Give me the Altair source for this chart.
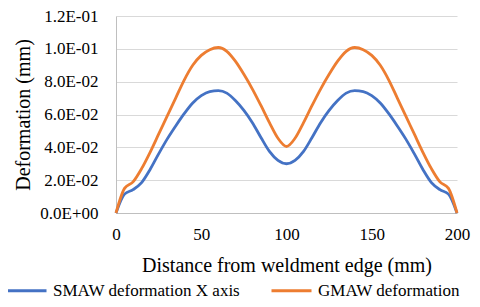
import altair as alt
import pandas as pd

x_vals = [0, 5, 10, 15, 20, 25, 30, 35, 40, 45, 50, 55, 60, 65, 70, 75, 80, 85, 90, 95, 100,
          105, 110, 115, 120, 125, 130, 135, 140, 145, 150, 155, 160, 165, 170, 175, 180, 185, 190, 195, 200]

smaw = [0.0, 0.0115, 0.0142, 0.0185, 0.0265, 0.0360, 0.0450, 0.0530, 0.0605, 0.0670, 0.0715,
        0.0740, 0.0745, 0.0730, 0.0685, 0.0625, 0.0550, 0.0460, 0.0375, 0.0320, 0.0300,
        0.0320, 0.0375, 0.0460, 0.0550, 0.0625, 0.0685, 0.0730, 0.0745, 0.0740, 0.0715,
        0.0670, 0.0605, 0.0530, 0.0450, 0.0360, 0.0265, 0.0185, 0.0142, 0.0115, 0.0]

gmaw = [0.0, 0.0150, 0.0190, 0.0270, 0.0370, 0.0480, 0.0590, 0.0700, 0.0810, 0.0900, 0.0960,
        0.0995, 0.1008, 0.0985, 0.0925, 0.0845, 0.0755, 0.0655, 0.0550, 0.0455, 0.0405,
        0.0455, 0.0550, 0.0655, 0.0755, 0.0845, 0.0925, 0.0985, 0.1008, 0.0995, 0.0960,
        0.0900, 0.0810, 0.0700, 0.0590, 0.0480, 0.0370, 0.0270, 0.0190, 0.0150, 0.0]

series_names = ["SMAW deformation X axis", "GMAW deformation"]
series_colors = ["#4472C4", "#ED7D31"]

x_ticks = [0, 50, 100, 150, 200]
y_ticks = [0, 0.02, 0.04, 0.06, 0.08, 0.10, 0.12]
y_labels = ["0.0E+00", "2.0E-02", "4.0E-02", "6.0E-02", "8.0E-02", "1.0E-01", "1.2E-01"]

rows = []
for name, ys in zip(series_names, [smaw, gmaw]):
    for i, (x, y) in enumerate(zip(x_vals, ys)):
        rows.append({"x": x, "y": y, "series": name, "order": i})
df = pd.DataFrame(rows)

label_expr = ""
for v, lab in zip(y_ticks, y_labels):
    label_expr += f"round(datum.value*1000)=={round(v*1000)} ? '{lab}' : "
label_expr += "''"

FONT = "Liberation Serif"

chart = alt.Chart(df).mark_line(strokeWidth=2.8, interpolate="monotone").encode(
    x=alt.X("x:Q", scale=alt.Scale(domain=[0, 200], nice=False),
            axis=alt.Axis(values=x_ticks, title="Distance from weldment edge (mm)",
                          grid=False, ticks=False, labelPadding=13, labelFlush=False,
                          domainColor="#bfbfbf", domainWidth=1,
                          labelFont=FONT, titleFont=FONT,
                          labelFontSize=17, titleFontSize=20,
                          labelColor="#000000", titleColor="#000000", titleFontWeight="normal",
                          titleY=58, titleBaseline="alphabetic")),
    y=alt.Y("y:Q", scale=alt.Scale(domain=[0, 0.12], nice=False),
            axis=alt.Axis(values=y_ticks, labelExpr=label_expr, title="Deformation (mm)",
                          grid=True, gridColor="#d9d9d9", gridWidth=1.2,
                          ticks=False, labelPadding=18, labelFlush=False,
                          domainColor="#bfbfbf", domainWidth=1,
                          labelFont=FONT, titleFont=FONT,
                          labelFontSize=17, titleFontSize=20,
                          labelColor="#000000", titleColor="#000000", titleFontWeight="normal",
                          titleX=-87, titleBaseline="alphabetic")),
    color=alt.Color("series:N",
                    scale=alt.Scale(domain=series_names, range=series_colors),
                    legend=alt.Legend(title=None, orient="none", legendX=-111, legendY=253,
                                      direction="horizontal", symbolType="stroke",
                                      symbolSize=1600, symbolStrokeWidth=3,
                                      labelOffset=5, columnPadding=24, labelLimit=400,
                                      labelFont=FONT, labelFontSize=17,
                                      labelColor="#000000", padding=0)),
    order="order:Q",
).properties(
    width=341, height=197,
    autosize=alt.AutoSizeParams(type="none"),
    padding={"left": 108, "top": 8, "right": 15, "bottom": 86},
).configure_view(stroke=None)

chart.save("out.html", embed_options={"renderer": "svg", "actions": False})
